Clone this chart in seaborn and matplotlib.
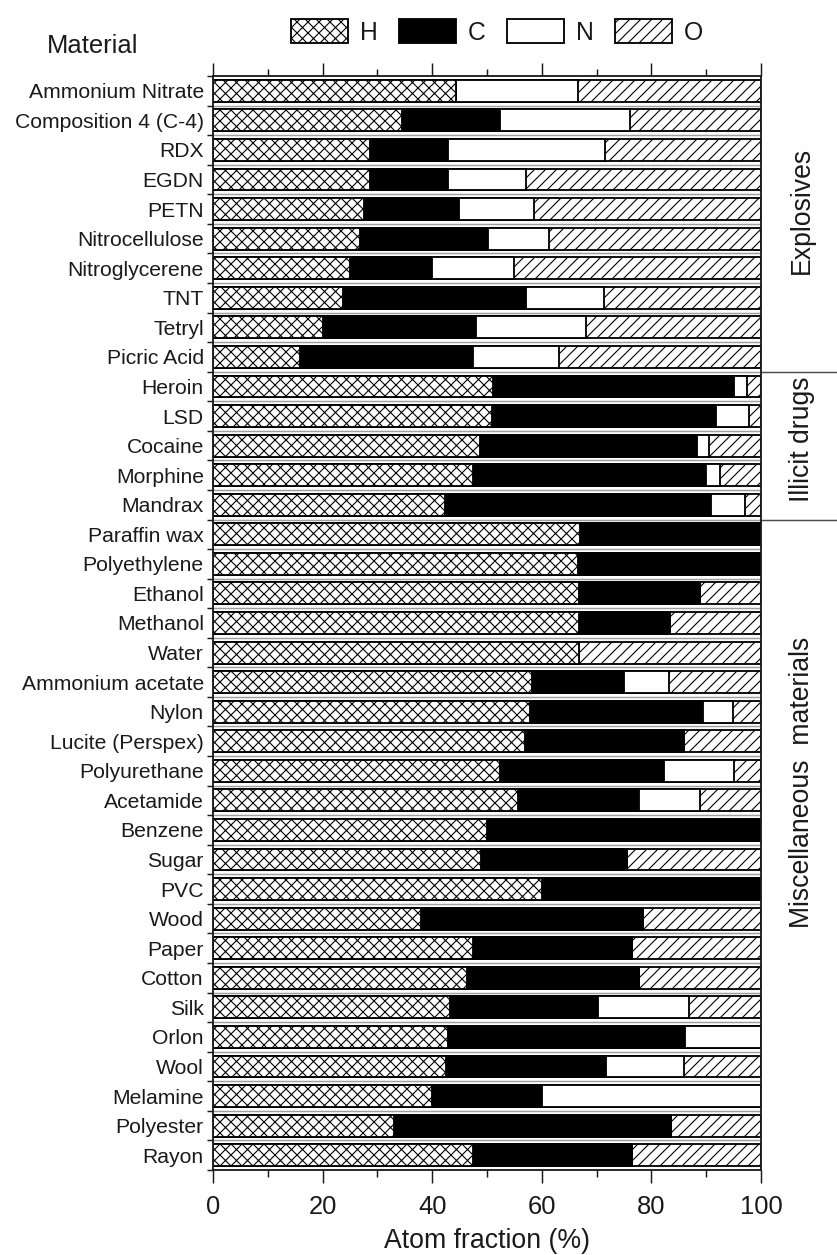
import numpy as np
import matplotlib
matplotlib.use("Agg")
import matplotlib.pyplot as plt
from matplotlib.patches import Patch
from matplotlib.ticker import MultipleLocator, FixedLocator
import seaborn as sns

# Elemental composition (atom fraction, %) of common materials
materials = [
    "Ammonium Nitrate", "Composition 4 (C-4)", "RDX", "EGDN", "PETN",
    "Nitrocellulose", "Nitroglycerene", "TNT", "Tetryl", "Picric Acid",
    "Heroin", "LSD", "Cocaine", "Morphine", "Mandrax",
    "Paraffin wax", "Polyethylene", "Ethanol", "Methanol", "Water",
    "Ammonium acetate", "Nylon", "Lucite (Perspex)", "Polyurethane", "Acetamide",
    "Benzene", "Sugar", "PVC", "Wood", "Paper", "Cotton", "Silk", "Orlon",
    "Wool", "Melamine", "Polyester", "Rayon",
]
hydrogen = [44.4, 34.5, 28.6, 28.6, 27.6, 26.8, 25.0, 23.8, 20.0, 15.8,
            51.1, 51.0, 48.8, 47.5, 42.4,
            66.9, 66.6, 66.7, 66.7, 66.7, 58.3, 57.9, 56.9, 52.3, 55.6,
            50.0, 48.9, 60.0, 38.0, 47.4, 46.4, 43.2, 42.9, 42.6, 40.0, 33.1, 47.4]
carbon = [0.0, 17.9, 14.3, 14.3, 17.2, 23.3, 15.0, 33.3, 28.0, 31.6,
          43.9, 40.8, 39.5, 42.5, 48.5,
          33.1, 33.4, 22.2, 16.7, 0.0, 16.7, 31.6, 29.1, 30.0, 22.2,
          50.0, 26.7, 40.0, 40.4, 29.1, 31.3, 27.0, 43.2, 29.1, 20.0, 50.4, 29.1]
nitrogen = [22.2, 23.7, 28.6, 14.3, 13.8, 11.3, 15.0, 14.3, 20.0, 15.8,
            2.4, 6.1, 2.3, 2.5, 6.1,
            0.0, 0.0, 0.0, 0.0, 0.0, 8.3, 5.3, 0.0, 12.7, 11.1,
            0.0, 0.0, 0.0, 0.0, 0.0, 0.0, 16.6, 13.9, 14.2, 40.0, 0.0, 0.0]
oxygen = [33.4, 23.9, 28.5, 42.8, 41.4, 38.6, 45.0, 28.6, 32.0, 36.8,
          2.6, 2.1, 9.4, 7.5, 3.0,
          0.0, 0.0, 11.1, 16.6, 33.3, 16.7, 5.2, 14.0, 5.0, 11.1,
          0.0, 24.4, 0.0, 21.6, 23.5, 22.3, 13.2, 0.0, 14.1, 0.0, 16.5, 23.5]

groups = ["Explosives", "Illicit drugs", "Miscellaneous  materials"]
group_sizes = [10, 5, 22]

DPI = 132
HATCH_H = "xxxx"
HATCH_O = "////"

sns.set_theme(style="ticks")
plt.rcParams["font.family"] = ["Liberation Sans", "DejaVu Sans"]
plt.rcParams["hatch.linewidth"] = 0.6
plt.rcParams["text.color"] = "#1a1a1a"
plt.rcParams["axes.labelcolor"] = "#1a1a1a"
plt.rcParams["xtick.color"] = "#1a1a1a"
plt.rcParams["ytick.color"] = "#1a1a1a"

fig = plt.figure(figsize=(837 / DPI, 1255 / DPI), dpi=DPI)
ax = fig.add_axes([213 / 837, 1 - 1170 / 1255, 548 / 837, 1094 / 1255])

H = np.array(hydrogen)
C = np.array(carbon)
N = np.array(nitrogen)
O = np.array(oxygen)

# Stacked bars: draw cumulative totals from longest to shortest
layers = [
    (H + C + N + O, "white", HATCH_O),
    (H + C + N, "white", None),
    (H + C, "black", None),
    (H, "white", HATCH_H),
]
for values, fc, hatch in layers:
    kw = dict(hatch=hatch) if hatch else {}
    sns.barplot(x=values, y=materials, orient="h", color=fc, saturation=1,
                edgecolor="black", linewidth=1.0, width=0.74, errorbar=None,
                ax=ax, **kw)

n = len(materials)
for b in np.arange(0.5, n - 0.5, 1):
    ax.axhline(b, color="0.62", lw=0.8, zorder=0.5)

ax.set_xlim(0, 100)
ax.set_ylim(n - 0.5, -0.5)
ax.set_xticks(range(0, 101, 20))
ax.xaxis.set_minor_locator(MultipleLocator(10))
ax.tick_params(axis="x", which="both", top=True, bottom=True, direction="out",
               width=0.8, labelsize=14, pad=6.5)
ax.tick_params(axis="x", which="major", length=7)
ax.tick_params(axis="x", which="minor", length=3.8)
ax.yaxis.set_minor_locator(FixedLocator(np.arange(-0.5, n, 1)))
ax.tick_params(axis="y", which="major", length=0, labelsize=11.5, pad=5)
ax.tick_params(axis="y", which="minor", length=3.5, width=0.8, direction="out")
ax.set_ylabel("")
ax.set_xlabel("Atom fraction (%)", fontsize=14.5, labelpad=5)
for s in ax.spines.values():
    s.set_visible(True)
    s.set_linewidth(1.0)
    s.set_color("#1a1a1a")

# Group brackets and labels on the right
ytr = ax.get_yaxis_transform()
edges = np.cumsum(group_sizes)[:-1] - 0.5
for e in edges:
    ax.plot([1, 1.14], [e, e], transform=ytr, clip_on=False, color="0.3", lw=0.8)
label_y = [4.06, 11.8, 23.4]
for name, yv in zip(groups, label_y):
    ax.text(1.075, yv, name, transform=ytr, rotation=90, ha="center",
            va="center", fontsize=14.5)

fig.text(47 / 837, 1 - 46 / 1255, "Material", ha="left", va="center", fontsize=14)

handles = [
    Patch(facecolor="white", edgecolor="black", hatch=HATCH_H, label="H"),
    Patch(facecolor="black", edgecolor="black", label="C"),
    Patch(facecolor="white", edgecolor="black", label="N"),
    Patch(facecolor="white", edgecolor="black", hatch=HATCH_O, label="O"),
]
fig.legend(handles=handles, ncol=4, loc="center",
           bbox_to_anchor=(497 / 837, 1 - 32 / 1255), frameon=False,
           fontsize=13.5, handlelength=2.3, handleheight=1.1,
           handletextpad=0.5, columnspacing=0.85, borderaxespad=0,
           borderpad=0)

fig.savefig("out.png", dpi=DPI)
